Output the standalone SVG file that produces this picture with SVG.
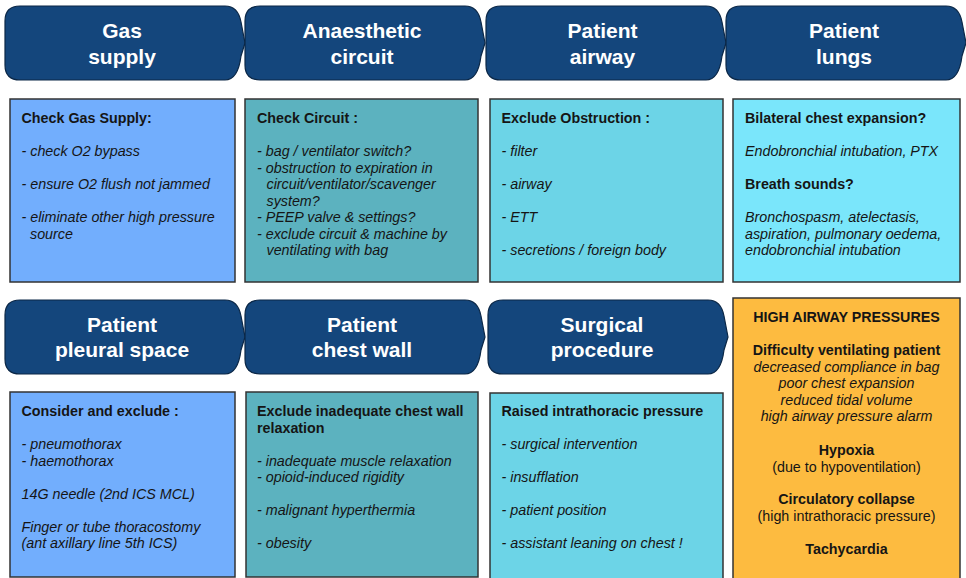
<svg xmlns="http://www.w3.org/2000/svg" xmlns:xlink="http://www.w3.org/1999/xlink" width="966" height="578" viewBox="0 0 966 578">
<defs>
<path id="chev" d="M15,0 H220 Q233,0 236,16 L240,37 L236,50 Q233,74 220,74 H15 Q0,74 0,59 V15 Q0,0 15,0 Z"/>
</defs>
<style>
.hdr{fill:#14467C;stroke:#0B2746;stroke-width:1.2;stroke-linejoin:round}
.ht{font-family:"Liberation Sans",Arial,sans-serif;font-weight:bold;font-size:21px;fill:#fff;text-anchor:middle}
.box{stroke:#333;stroke-width:1.5}
.c1{fill:#72AEFD}
.c2{fill:#5CB2BF}
.c3{fill:#6CD4E7}
.c4{fill:#7AE6FB}
.c5{fill:#FDBB40}
text.t{font-family:"Liberation Sans",Arial,sans-serif;font-size:14.3px;fill:#151515}
.b{font-weight:bold}
.i{font-style:italic}
.m{text-anchor:middle}
</style>
<rect width="966" height="578" fill="#fff"/>
<g id="connectors"/>
<g id="hdr-gas"><use xlink:href="#chev" class="hdr" x="5" y="6"/><text class="ht" x="122" y="38">Gas</text><text class="ht" x="122" y="63.5">supply</text></g>
<g id="hdr-circuit"><use xlink:href="#chev" class="hdr" x="245" y="6"/><text class="ht" x="362" y="38">Anaesthetic</text><text class="ht" x="362" y="63.5">circuit</text></g>
<g id="hdr-airway"><use xlink:href="#chev" class="hdr" x="486" y="6"/><text class="ht" x="602.5" y="38">Patient</text><text class="ht" x="602.5" y="63.5">airway</text></g>
<g id="hdr-lungs"><use xlink:href="#chev" class="hdr" x="726" y="6"/><text class="ht" x="844" y="38">Patient</text><text class="ht" x="844" y="63.5">lungs</text></g>
<g id="hdr-pleural"><use xlink:href="#chev" class="hdr" x="5" y="300"/><text class="ht" x="122" y="331.5">Patient</text><text class="ht" x="122" y="357">pleural space</text></g>
<g id="hdr-chestwall"><use xlink:href="#chev" class="hdr" x="245" y="300"/><text class="ht" x="362" y="331.5">Patient</text><text class="ht" x="362" y="357">chest wall</text></g>
<g id="hdr-surgical"><use xlink:href="#chev" class="hdr" x="488" y="300"/><text class="ht" x="602" y="331.5">Surgical</text><text class="ht" x="602" y="357">procedure</text></g>

<g id="box-gas"><rect class="box c1" x="10" y="99" width="225" height="183"/>
<text class="t b" x="21.5" y="123">Check Gas Supply:</text>
<text class="t i" x="21.5" y="156">- check O2 bypass</text>
<text class="t i" x="21.5" y="189">- ensure O2 flush not jammed</text>
<text class="t i" x="21.5" y="222">- eliminate other high pressure</text>
<text class="t i" x="30" y="238.5">source</text></g>

<g id="box-circuit"><rect class="box c2" x="245" y="99" width="233" height="183"/>
<text class="t b" x="257" y="123">Check Circuit :</text>
<text class="t i" x="257" y="156">- bag / ventilator switch?</text>
<text class="t i" x="257" y="172.5">- obstruction to expiration in</text>
<text class="t i" x="266.5" y="189">circuit/ventilator/scavenger</text>
<text class="t i" x="266.5" y="205.5">system?</text>
<text class="t i" x="257" y="222">- PEEP valve &amp; settings?</text>
<text class="t i" x="257" y="238.5">- exclude circuit &amp; machine by</text>
<text class="t i" x="266.5" y="255">ventilating with bag</text></g>

<g id="box-airway"><rect class="box c3" x="490" y="99" width="233" height="183"/>
<text class="t b" x="501.5" y="123">Exclude Obstruction :</text>
<text class="t i" x="501.5" y="156">- filter</text>
<text class="t i" x="501.5" y="189">- airway</text>
<text class="t i" x="501.5" y="222">- ETT</text>
<text class="t i" x="501.5" y="255">- secretions / foreign body</text></g>

<g id="box-lungs"><rect class="box c4" x="733" y="99" width="227" height="183"/>
<text class="t b" x="745" y="123">Bilateral chest expansion?</text>
<text class="t i" x="745" y="156">Endobronchial intubation, PTX</text>
<text class="t b" x="745" y="189">Breath sounds?</text>
<text class="t i" x="745" y="222">Bronchospasm, atelectasis,</text>
<text class="t i" x="745" y="238.5">aspiration, pulmonary oedema,</text>
<text class="t i" x="745" y="255">endobronchial intubation</text></g>

<g id="box-pleural"><rect class="box c1" x="10" y="392" width="225" height="185"/>
<text class="t b" x="21.5" y="416">Consider and exclude :</text>
<text class="t i" x="21.5" y="449">- pneumothorax</text>
<text class="t i" x="21.5" y="465.5">- haemothorax</text>
<text class="t i" x="21.5" y="498.5">14G needle (2nd ICS MCL)</text>
<text class="t i" x="21.5" y="531.5">Finger or tube thoracostomy</text>
<text class="t i" x="21.5" y="548">(ant axillary line 5th ICS)</text></g>

<g id="box-chestwall"><rect class="box c2" x="246" y="392" width="232" height="185"/>
<text class="t b" x="257" y="416">Exclude inadequate chest wall</text>
<text class="t b" x="257" y="432.5">relaxation</text>
<text class="t i" x="257" y="465.5">- inadequate muscle relaxation</text>
<text class="t i" x="257" y="482">- opioid-induced rigidity</text>
<text class="t i" x="257" y="515">- malignant hyperthermia</text>
<text class="t i" x="257" y="548">- obesity</text></g>

<g id="box-surgical"><rect class="box c3" x="490" y="393" width="233" height="186"/>
<text class="t b" x="501.5" y="416">Raised intrathoracic pressure</text>
<text class="t i" x="501.5" y="449">- surgical intervention</text>
<text class="t i" x="501.5" y="482">- insufflation</text>
<text class="t i" x="501.5" y="515">- patient position</text>
<text class="t i" x="501.5" y="548">- assistant leaning on chest !</text></g>

<g id="box-summary"><rect class="box c5" x="733" y="298" width="227" height="284"/>
<text class="t b m" x="846.5" y="321.5">HIGH AIRWAY PRESSURES</text>
<text class="t b m" x="846.5" y="355">Difficulty ventilating patient</text>
<text class="t i m" x="846.5" y="371.5">decreased compliance in bag</text>
<text class="t i m" x="846.5" y="388">poor chest expansion</text>
<text class="t i m" x="846.5" y="404.5">reduced tidal volume</text>
<text class="t i m" x="846.5" y="421">high airway pressure alarm</text>
<text class="t b m" x="846.5" y="455">Hypoxia</text>
<text class="t m" x="846.5" y="471.5">(due to hypoventilation)</text>
<text class="t b m" x="846.5" y="504">Circulatory collapse</text>
<text class="t m" x="846.5" y="520.5">(high intrathoracic pressure)</text>
<text class="t b m" x="846.5" y="553.5">Tachycardia</text></g>
</svg>
